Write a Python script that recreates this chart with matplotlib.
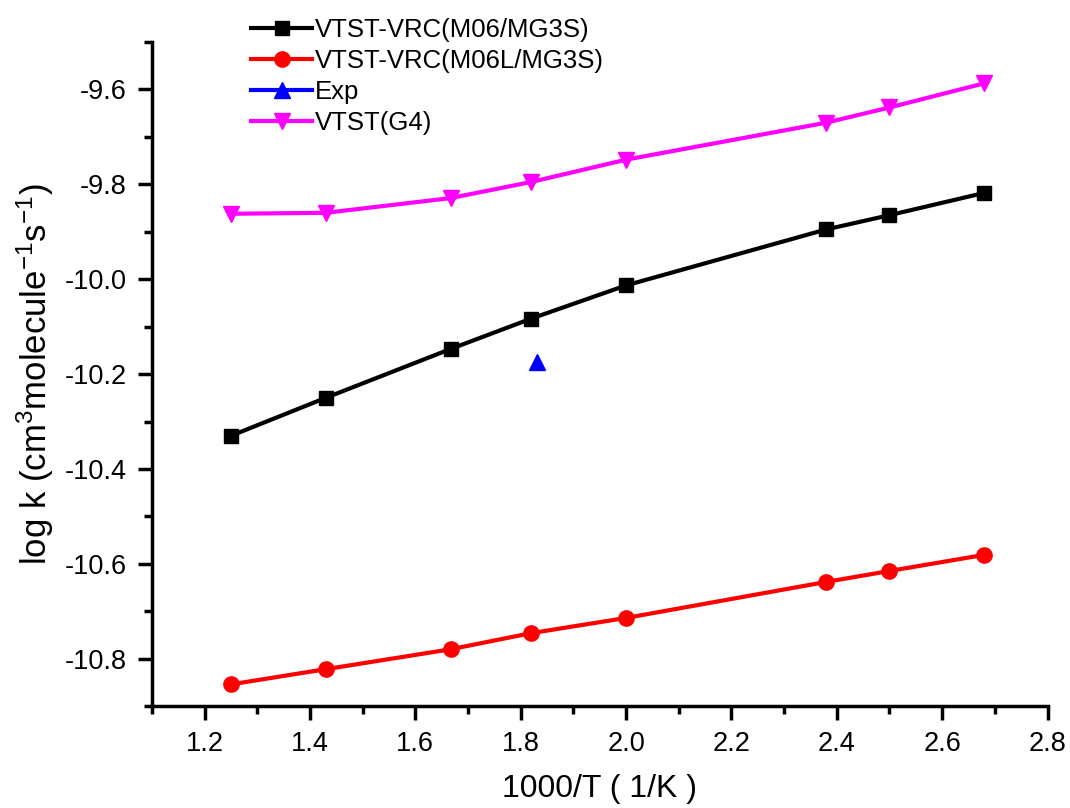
import numpy as np
import matplotlib.pyplot as plt
from matplotlib.ticker import MultipleLocator

plt.rcParams['font.family'] = ['Liberation Sans', 'DejaVu Sans']
plt.rcParams['axes.unicode_minus'] = False
plt.rcParams['mathtext.default'] = 'regular'

x = [1.25, 1.43, 1.667, 1.82, 2.0, 2.38, 2.5, 2.68]
vrc_m06 = [-10.33, -10.25, -10.147, -10.083, -10.013, -9.895, -9.865, -9.818]
vrc_m06l = [-10.854, -10.822, -10.78, -10.746, -10.714, -10.638, -10.615, -10.581]
vtst_g4 = [-9.862, -9.86, -9.829, -9.795, -9.748, -9.67, -9.638, -9.587]
exp_x = [1.83]
exp_y = [-10.175]

fig = plt.figure(figsize=(10.7, 8.08), dpi=100)
ax = fig.add_axes([0.142, 0.126, 0.837, 0.822])

ax.plot(x, vrc_m06, '-s', color='black', lw=3, ms=10, label='VTST-VRC(M06/MG3S)')
ax.plot(x, vrc_m06l, '-o', color='red', lw=3, ms=11, label='VTST-VRC(M06L/MG3S)')
ax.plot(exp_x, exp_y, '-^', color='blue', lw=3, ms=11, label='Exp')
ax.plot(x, vtst_g4, '-v', color='magenta', lw=3, ms=11, label='VTST(G4)')

ax.set_xlim(1.1, 2.8)
ax.set_ylim(-10.9, -9.5)
ax.xaxis.set_major_locator(MultipleLocator(0.2))
ax.xaxis.set_minor_locator(MultipleLocator(0.1))
ax.yaxis.set_minor_locator(MultipleLocator(0.1))
ax.set_yticks(np.arange(-10.8, -9.5, 0.2))

for s in ['top', 'right']:
    ax.spines[s].set_visible(False)
for s in ['left', 'bottom']:
    ax.spines[s].set_linewidth(2.5)
ax.tick_params(which='major', direction='out', length=10, width=2.5, labelsize=19.5, pad=8)
ax.tick_params(which='minor', direction='out', length=6, width=2.5)

ax.set_xlabel('1000/T ( 1/K )', fontsize=23, labelpad=12)
ax.set_ylabel('log k (cm$^{3}$molecule$^{-1}$s$^{-1}$)', fontsize=25, labelpad=6)

fig.legend(loc='upper left', bbox_to_anchor=(0.22, 0.997), frameon=False,
           fontsize=18.5, handlelength=2.4, handletextpad=0.1, labelspacing=0.27,
           borderaxespad=0.2)

fig.savefig('out.png', dpi=100)
